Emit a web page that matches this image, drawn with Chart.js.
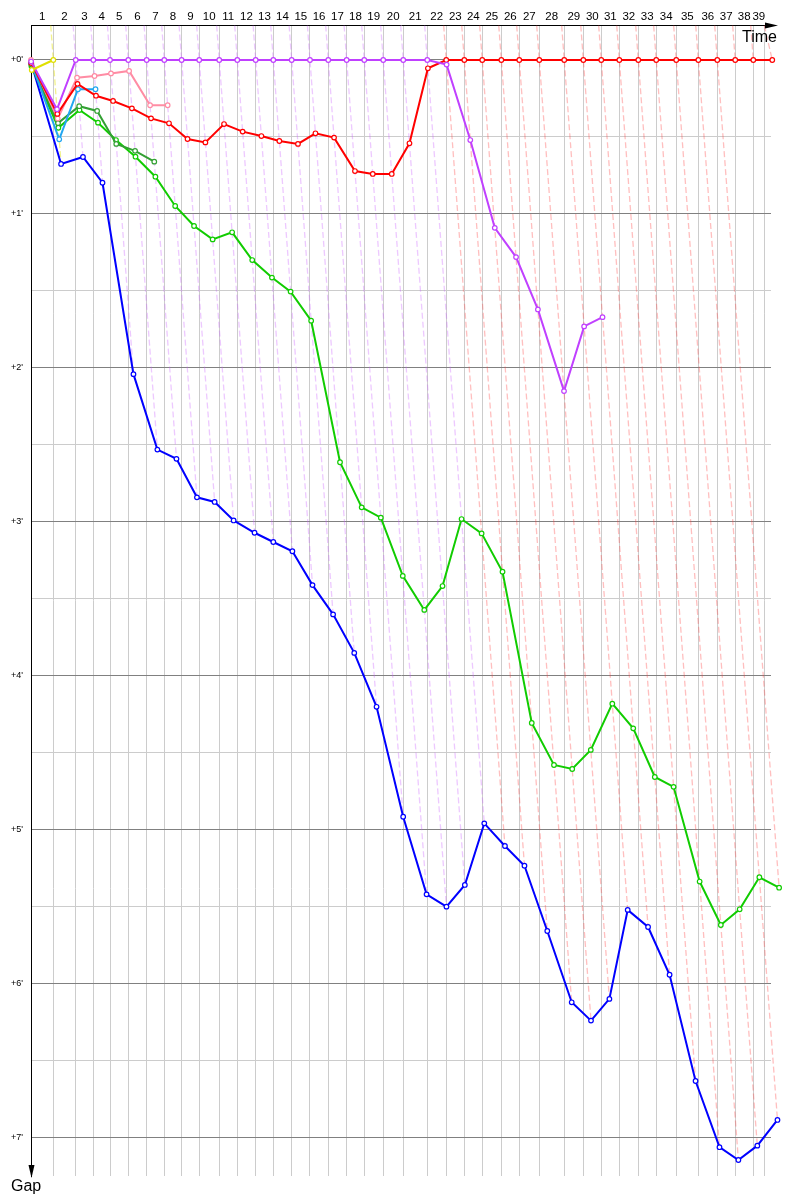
<!DOCTYPE html>
<html>
<head>
<meta charset="utf-8">
<script src="https://cdn.jsdelivr.net/npm/chart.js@4.4.1/dist/chart.umd.min.js"></script>
<style>
html,body{margin:0;padding:0;background:#fff;}
#wrap{width:800px;height:1200px;position:relative;}
canvas{display:block;}
</style>
</head>
<body>
<div id="wrap"><canvas id="c" width="800" height="1200"></canvas></div>
<script>
// ---------------- DATA ----------------
// lap numbers shown on the top axis
const lapLabels = ['1','2','3','4','5','6','7','8','9','10','11','12','13','14','15','16','17','18','19','20',
  '21','22','23','24','25','26','27','28','29','30','31','32','33','34','35','36','37','38','39'];
// leader's cumulative race time (minutes) at the end of each lap, index = lap (0 = start)
const lapTimes = [0, 1.94, 3.89, 5.42, 6.87, 8.46, 10.06, 11.59, 13.10, 14.63, 16.37, 17.94, 19.54, 21.07,
  22.67, 24.26, 25.85, 27.45, 28.98, 30.63, 32.37, 34.46, 36.11, 37.68, 39.24, 40.90, 42.46, 44.20,
  46.37, 48.03, 49.59, 51.16, 52.81, 54.37, 56.11, 58.03, 59.68, 61.24, 62.81, 64.46];
// end of the time axis grid (minutes)
const gridEnd = 63.77;
// gap axis ticks (minutes)
const gapTicks = [0, 0.5, 1, 1.5, 2, 2.5, 3, 3.5, 4, 4.5, 5, 5.5, 6, 6.5, 7];
const gapTickLabels = ["+0'", "", "+1'", "", "+2'", "", "+3'", "", "+4'", "", "+5'", "", "+6'", "", "+7'"];

// gap to leader (minutes) at the end of each lap, index = lap
const gapYellow = [0.065, 0];
const gapPurple = [0.01, 0.32, 0, 0, 0, 0, 0, 0, 0, 0, 0, 0, 0, 0, 0, 0, 0, 0, 0, 0, 0, 0,
  0.03, 0.52, 1.09, 1.28, 1.62, 2.15, 1.73, 1.67];
const gapRed = [0.02, 0.35, 0.155, 0.232, 0.266, 0.314, 0.379, 0.411, 0.513, 0.535, 0.416, 0.465, 0.494,
  0.526, 0.545, 0.476, 0.504, 0.721, 0.740, 0.740, 0.541, 0.054, 0, 0, 0, 0, 0, 0, 0, 0, 0, 0, 0, 0,
  0, 0, 0, 0, 0, 0];
const gapPink = [0.0, 0.38, 0.115, 0.104, 0.087, 0.071, 0.294, 0.294];
const gapCyan = [0.015, 0.515, 0.19, 0.19];
const gapDarkGreen = [0.03, 0.41, 0.30, 0.331, 0.545, 0.59, 0.66];
const gapGreen = [0.04, 0.44, 0.325, 0.407, 0.52, 0.628, 0.758, 0.948, 1.078, 1.165, 1.119, 1.299, 1.413,
  1.504, 1.693, 2.612, 2.905, 2.972, 3.35, 3.571, 3.416, 2.981, 3.074, 3.323, 4.305, 4.578, 4.604,
  4.48, 4.18, 4.34, 4.656, 4.72, 5.335, 5.617, 5.515, 5.307, 5.375];
const gapBlue = [0.02, 0.675, 0.63, 0.797, 2.04, 2.53, 2.59, 2.84, 2.87, 2.99, 3.07, 3.13, 3.19, 3.41,
  3.60, 3.85, 4.20, 4.914, 5.418, 5.498, 5.357, 4.957, 5.104, 5.232, 5.656, 6.119, 6.238, 6.097,
  5.519, 5.63, 5.94, 6.63, 7.06, 7.143, 7.05, 6.883];

// ---------------- STYLE ----------------
const Y_MIN = -0.224, Y_MAX = 7.247, X_MAX = 64.35;
const cars = [
  {gaps: gapYellow,    color: '#e0e000', dash: 'rgba(225,225,0,0.45)',  order: 1},
  {gaps: gapPurple,    color: '#c040ff', dash: 'rgba(200,90,255,0.33)', order: 2},
  {gaps: gapRed,       color: '#ff0000', dash: 'rgba(255,60,60,0.33)',  order: 3},
  {gaps: gapPink,      color: '#ff8ca4', dash: 'rgba(255,140,164,0.4)', order: 4},
  {gaps: gapCyan,      color: '#22a6f0', dash: 'rgba(34,166,240,0.4)',  order: 5},
  {gaps: gapDarkGreen, color: '#33a033', dash: 'rgba(51,160,51,0.4)',   order: 6},
  {gaps: gapGreen,     color: '#11cc00', dash: 'rgba(17,204,0,0.4)',    order: 7},
  {gaps: gapBlue,      color: '#0000ff', dash: 'rgba(0,0,255,0.4)',     order: 8}
];

const datasets = [];
cars.forEach(c => {
  const data = [];
  c.gaps.forEach((g, n) => { if (g != null) data.push({x: lapTimes[n] + g, y: g}); });
  datasets.push({
    data, showLine: true, borderColor: c.color, borderWidth: 2,
    pointRadius: 2.3, pointBorderWidth: 1.2, pointBackgroundColor: '#fff',
    pointBorderColor: c.color, tension: 0, clip: false, order: c.order, isCar: true
  });
});
// lap lines (dashed): from the time axis through every car finishing that lap
for (let n = 1; n < lapTimes.length; n++) {
  let gMax = -Infinity, leader = null;
  cars.forEach(c => {
    const g = c.gaps[n];
    if (g != null) { if (g > gMax) gMax = g; if (g === 0) leader = c; }
  });
  if (gMax === -Infinity || !leader) continue;
  const xTop = Math.min(lapTimes[n] + Y_MIN, gridEnd);
  datasets.push({
    data: [{x: xTop, y: Y_MIN}, {x: lapTimes[n] + gMax, y: gMax}],
    showLine: true, borderColor: leader.dash, borderWidth: 1.3, borderDash: [6, 3],
    pointRadius: 0, clip: false, order: 1000
  });
}

const gridTimes = lapTimes.slice(1).map(t => Math.min(t, gridEnd));
const labelTimes = gridTimes.map((t, i) => ((i === 0 ? 0 : gridTimes[i - 1]) + t) / 2);

const deco = {
  id: 'deco',
  afterDatasetsDraw(chart) {
    // markers that sit just outside the plot area (end of race) are drawn too
    const a = chart.chartArea;
    const wide = {left: -1e4, top: -1e4, right: 1e4, bottom: 1e4};
    chart.data.datasets.forEach((ds, i) => {
      if (!ds.isCar) return;
      chart.getDatasetMeta(i).data.forEach(el => {
        if (el.x > a.right + 2 || el.x < a.left - 2 || el.y > a.bottom + 2 || el.y < a.top - 2) {
          el.draw(chart.ctx, wide);
        }
      });
    });
  },
  afterDraw(chart) {
    const {ctx, chartArea: a} = chart;
    ctx.save();
    ctx.strokeStyle = '#000'; ctx.fillStyle = '#000'; ctx.lineWidth = 1;
    // time axis arrow
    ctx.beginPath(); ctx.moveTo(a.right - 1, 25.5); ctx.lineTo(766, 25.5); ctx.stroke();
    ctx.beginPath(); ctx.moveTo(765, 22.5); ctx.lineTo(778, 25.5); ctx.lineTo(765, 28.5); ctx.closePath(); ctx.fill();
    // gap axis arrow
    ctx.beginPath(); ctx.moveTo(31.5, a.bottom - 1); ctx.lineTo(31.5, 1166); ctx.stroke();
    ctx.beginPath(); ctx.moveTo(28.5, 1165); ctx.lineTo(31.5, 1178); ctx.lineTo(34.5, 1165); ctx.closePath(); ctx.fill();
    ctx.font = "16px 'Liberation Sans', Arial, sans-serif";
    ctx.textBaseline = 'alphabetic';
    ctx.textAlign = 'right'; ctx.fillText('Time', 777, 41.5);
    ctx.textAlign = 'left'; ctx.fillText('Gap', 11, 1190.5);
    ctx.restore();
  }
};

Chart.defaults.font.family = "'Liberation Sans', Arial, sans-serif";
new Chart(document.getElementById('c'), {
  type: 'scatter',
  data: {datasets},
  plugins: [deco],
  options: {
    responsive: false, devicePixelRatio: 1, animation: false, events: [],
    layout: {padding: {left: 0, right: 29, top: 0, bottom: 0}},
    plugins: {legend: {display: false}, tooltip: {enabled: false}},
    scales: {
      x: {
        type: 'linear', position: 'bottom', min: 0, max: X_MAX, bounds: 'data',
        grid: {color: '#cccccc', lineWidth: 1, drawTicks: false},
        border: {display: false},
        ticks: {display: false},
        afterBuildTicks: s => { s.ticks = gridTimes.map(v => ({value: v})); },
        afterFit: s => { s.height = 24; }
      },
      xTop: {
        type: 'linear', position: 'top', min: 0, max: X_MAX, bounds: 'data',
        grid: {display: false, drawTicks: false},
        border: {display: true, color: '#000', width: 1},
        ticks: {
          autoSkip: false, maxRotation: 0, padding: 2, color: '#000',
          font: {size: 11.5},
          callback: (v, i) => lapLabels[i]
        },
        afterBuildTicks: s => { s.ticks = labelTimes.map(v => ({value: v})); },
        afterFit: s => { s.height = 25.5; }
      },
      y: {
        type: 'linear', position: 'left', reverse: true, min: Y_MIN, max: Y_MAX, bounds: 'data',
        grid: {
          drawTicks: false, lineWidth: 1,
          color: c => (c.tick && Number.isInteger(c.tick.value)) ? '#808080' : '#cccccc'
        },
        border: {display: true, color: '#000', width: 1},
        ticks: {
          padding: 8, color: '#000', font: {size: 9},
          callback: (v, i) => gapTickLabels[i]
        },
        afterBuildTicks: s => { s.ticks = gapTicks.map(v => ({value: v})); },
        afterFit: s => { s.width = 31; }
      }
    }
  }
});
</script>
</body>
</html>
